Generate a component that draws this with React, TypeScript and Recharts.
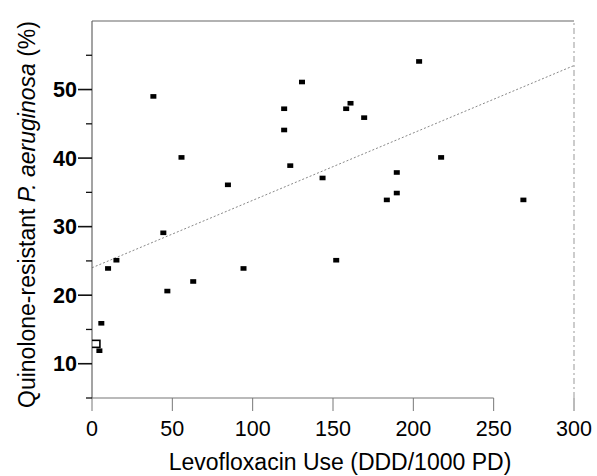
import React from 'react';
import { ScatterChart, Scatter, XAxis, YAxis, ReferenceLine, Label } from 'recharts';

// levofloxacin use (DDD/1000 PD) per hospital
const levofloxacinUse = [38.2, 55.7, 44.4, 10, 15.2, 46.9, 63, 5.8, 4.6, 130.7, 119.6, 119.6, 123.4, 84.6, 143.5, 160.9, 158.2, 169.4, 189.7, 189.7, 183.5, 203.6, 217.3, 268.5, 94.3, 152];
// quinolone-resistant P. aeruginosa (%)
const resistance = [49.0, 40.1, 29.1, 23.9, 25.1, 20.6, 22.0, 15.9, 11.9, 51.1, 47.2, 44.1, 38.9, 36.1, 37.1, 48.0, 47.2, 45.9, 37.9, 34.9, 33.9, 54.1, 40.1, 33.9, 23.9, 25.1];

// overlapping points near the origin, drawn as an open box
const clusterUse = [1.5];
const clusterResistance = [12.9];

const xTicks = [0, 50, 100, 150, 200, 250, 300];
const yTicks = [5, 10, 15, 20, 25, 30, 35, 40, 45, 50, 55];

// fitted regression line ends
const trendX = [0, 300];
const trendY = [24, 53.5];

const points = levofloxacinUse.map((x, i) => ({ x, y: resistance[i] }));
const cluster = clusterUse.map((x, i) => ({ x, y: clusterResistance[i] }));

const font = '"Liberation Sans", Arial, sans-serif';

const SquareMarker = (props: any) => {
  const { cx, cy } = props;
  return <rect x={cx - 3} y={cy - 2.3} width={6} height={4.6} fill="#000" />;
};

const OpenBox = (props: any) => {
  const { cx, cy } = props;
  return <rect x={cx - 5.5} y={cy - 3.5} width={11} height={7} fill="none" stroke="#000" strokeWidth={1.6} />;
};

const YTick = (props: any) => {
  const { x, y, payload } = props;
  const major = payload.value % 10 === 0;
  return (
    <g>
      <line x1={x - (major ? 14 : 6)} x2={x} y1={y} y2={y} stroke="#111" strokeWidth={major ? 1.6 : 1.3} />
      {major && (
        <text x={x - 15} y={y} dy="0.36em" textAnchor="end" fontSize={21.5} fontWeight="bold" fontFamily={font} fill="#000">
          {payload.value}
        </text>
      )}
    </g>
  );
};

const YTitle = (props: any) => {
  const { viewBox } = props;
  const cx = 35;
  const cy = viewBox.y + viewBox.height / 2 + 5;
  return (
    <text x={cx} y={cy} transform={`rotate(-90, ${cx}, ${cy})`} textAnchor="middle" fontSize={23} fontFamily={font} fill="#000">
      Quinolone-resistant <tspan fontStyle="italic">P. aeruginosa</tspan> (%)
    </text>
  );
};

const XTitle = (props: any) => {
  const { viewBox } = props;
  return (
    <text x={viewBox.x + viewBox.width / 2 + 7} y={viewBox.y + viewBox.height - 6} textAnchor="middle" fontSize={23} fontFamily={font} fill="#000">
      Levofloxacin Use (DDD/1000 PD)
    </text>
  );
};

export default function App() {
  return (
    <div style={{ position: 'absolute', left: 0, top: 0, background: '#fff' }}>
      <ScatterChart width={597} height={476} margin={{ top: 21, right: 23, bottom: 0, left: 0 }}>
        <XAxis
          type="number"
          dataKey="x"
          domain={[0, 300]}
          ticks={xTicks}
          axisLine={false}
          tickSize={13}
          tickMargin={10}
          tickLine={{ stroke: '#777', strokeWidth: 1 }}
          tick={{ fontSize: 21.5, fill: '#000', fontFamily: font }}
          height={78}
          allowDataOverflow
        >
          <Label content={<XTitle />} />
        </XAxis>
        <YAxis
          type="number"
          dataKey="y"
          domain={[5, 60]}
          ticks={yTicks}
          width={92}
          tickSize={0}
          tickMargin={0}
          tickLine={false}
          axisLine={{ stroke: '#666', strokeWidth: 1.2 }}
          tick={<YTick />}
          interval={0}
          allowDataOverflow
        >
          <Label content={<YTitle />} />
        </YAxis>
        <ReferenceLine segment={[{ x: 0, y: 5 }, { x: 250, y: 5 }]} stroke="#777" strokeWidth={1.2} />
        <ReferenceLine y={60} stroke="#666" strokeWidth={1.2} />
        <ReferenceLine x={300} stroke="#999" strokeWidth={1} strokeDasharray="6 3 2 3" />
        <ReferenceLine
          segment={[{ x: trendX[0], y: trendY[0] }, { x: trendX[1], y: trendY[1] }]}
          stroke="#888"
          strokeWidth={1}
          strokeDasharray="2 2"
        />
        <Scatter data={points} shape={<SquareMarker />} isAnimationActive={false} />
        <Scatter data={cluster} shape={<OpenBox />} isAnimationActive={false} />
      </ScatterChart>
    </div>
  );
}
